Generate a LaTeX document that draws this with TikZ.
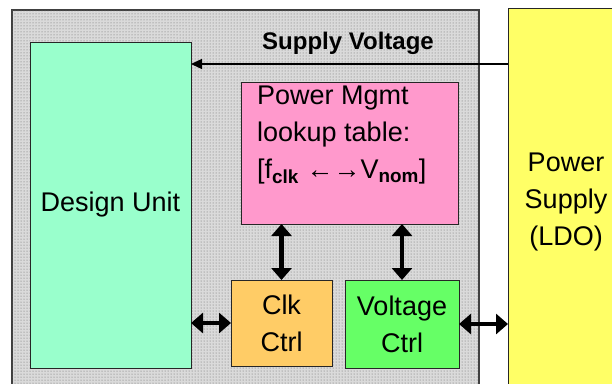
\documentclass[tikz,border=0pt]{standalone}
\usepackage{fontspec}
\setmainfont{Liberation Sans}
\usetikzlibrary{arrows.meta,patterns}
\definecolor{duc}{HTML}{99FFCC}
\definecolor{pinkc}{HTML}{FF99CC}
\definecolor{clkc}{HTML}{FFCC66}
\definecolor{voltc}{HTML}{66FF66}
\definecolor{psc}{HTML}{FFFF66}
\definecolor{bgc}{HTML}{DADADA}
\begin{document}
\begin{tikzpicture}[x=1pt,y=-1pt,
  blk/.style={draw=black!85,line width=1pt,inner sep=0pt,outer sep=0pt,align=center},
  txt/.style={font=\fontsize{27}{37}\selectfont},
  bigarrow/.style={line width=4.5pt,{Triangle[length=12pt,width=20pt]}-{Triangle[length=12pt,width=20pt]}},
  thinarrow/.style={line width=1.4pt,-{Triangle[length=11pt,width=10pt]}}]
\useasboundingbox (0,0) rectangle (612,383);
\clip (0,0) rectangle (612,383);
% outer container
\node[blk,draw=black!75,line width=1.3pt,minimum width=467pt,minimum height=400pt,
  fill=bgc,postaction={pattern=dots,pattern color=black!60}] (chip) at (245.5,210) {};
% power supply
\node[blk,fill=psc,minimum width=130pt,minimum height=400pt] (ps) at (573,208) {};
\node[txt,align=center] (pstext) at (566,202) {Power\\Supply\\(LDO)};
% design unit
\node[blk,fill=duc,minimum width=161pt,minimum height=326pt,txt] (du) at (110.5,205) {Design Unit};
% power mgmt lookup table
\node[blk,fill=pinkc,minimum width=217pt,minimum height=142pt] (pm) at (349.5,153) {};
\node[txt,align=left,anchor=north west,inner sep=0pt] (pmtext) at (257,86)
  {Power Mgmt\\lookup table:\\{}[f\textsubscript{\textbf{clk}} ←→V\textsubscript{\textbf{nom}}]};
% clk ctrl
\node[blk,fill=clkc,minimum width=101pt,minimum height=86pt,txt] (clk) at (281.5,323) {Clk\\Ctrl};
% voltage ctrl
\node[blk,fill=voltc,minimum width=114pt,minimum height=88pt,txt] (volt) at (402,324) {Voltage\\Ctrl};
% supply voltage
\coordinate (sv) at (0,64);
\draw[thinarrow] (ps.west |- sv) -- (du.east |- sv);
\node[font=\bfseries\fontsize{24}{28}\selectfont] (svlabel) at (348,43) {Supply Voltage};
% bidirectional arrows
\draw[bigarrow] (clk.north) -- (clk.north |- pm.south);
\draw[bigarrow] (volt.north) -- (volt.north |- pm.south);
\draw[bigarrow] (du.east |- clk.west) -- (clk.west);
\draw[bigarrow] (volt.east) -- (volt.east -| ps.west);
\end{tikzpicture}
\end{document}
